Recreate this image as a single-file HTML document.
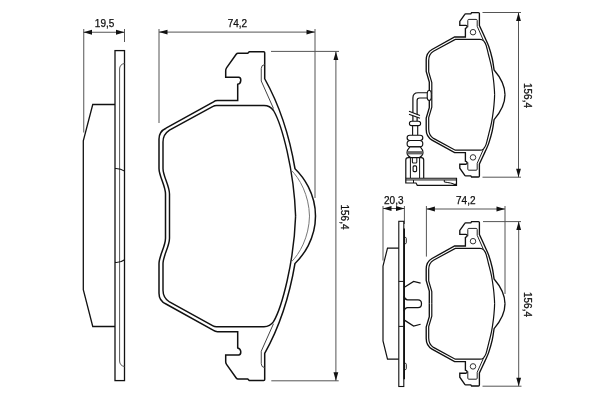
<!DOCTYPE html>
<html><head><meta charset="utf-8"><style>
html,body{margin:0;padding:0;background:#fff;}
svg{display:block;will-change:transform;}
text{font-family:"Liberation Sans",sans-serif;fill:#111;stroke:#111;stroke-width:0.25px;}
</style></head><body>
<svg width="600" height="400" viewBox="0 0 600 400">
<rect width="600" height="400" fill="#fff"/>
<path d="M83.75 29 V132.5" stroke="#555" stroke-width="1" fill="none"/>
<path d="M124.5 29 V42" stroke="#555" stroke-width="1" fill="none"/>
<path d="M83.5 32.25 H124.5" stroke="#555" stroke-width="1"/><path d="M83.50 32.25 L92.00 29.85 L92.00 34.65 Z" fill="#111"/><path d="M124.50 32.25 L116.00 34.65 L116.00 29.85 Z" fill="#111"/><text x="104.6" y="27" font-size="10" text-anchor="middle">19,5</text>
<rect x="115" y="50.6" width="9.5" height="330" fill="none" stroke="#111" stroke-width="1.3"/>
<path d="M115 104.5 H92.75 L83.3 140.75 V289.75 L92.75 326.5 H115" stroke="#111" stroke-width="1.3" fill="none"/>
<path d="M124.5 63.4 Q119.6 64.5 119.6 69 V361 Q119.6 365.5 124.5 366.6" stroke="#555" stroke-width="1.0" fill="none"/>
<path d="M115 168.5 Q120.5 168.2 124.6 171.1" stroke="#111" stroke-width="1.1" fill="none"/>
<path d="M115 262.4 Q120.5 262.8 124.6 259.75" stroke="#111" stroke-width="1.1" fill="none"/>
<g><path d="M165.5 216.1 L165.5 194 C165.5 186 159 176 159 168.5 L159 139 C159 134 161 130.5 166 128.2 L213.5 101.8 Q215.2 100.5 217.5 100.5 L237.7 100.5 L237.7 84.3 C241.6 83.6 241.6 77.6 238.7 77.25 L225.7 77.25 L225.7 70.5 Q225.7 69 226.7 67.6 L236.2 54.2 Q236.9 53.25 238 53.25 L247.75 53.25 L249.25 51.75 L263.7 51.75 Q264.7 51.75 264.7 52.75 L264.7 78.75 C281.5 108.75 289.8 138 295 168.75 C303 176.5 315.5 193 315.5 216.1" stroke="#111" stroke-width="1.5" fill="none"/><path d="M169.5 216.1 L169.5 194 C169.5 186 163 176 163 168.5 L163 142 Q163 134.5 169.5 130.2 L213 106.4 Q214.5 105.5 216.5 105.5 L264 105.5 Q270 105.5 273.5 110.5 C282 125 294 170 295.6 216.1" stroke="#111" stroke-width="1.45" fill="none"/><path d="M264.7 64.5 Q261.25 65 261.25 68.5 L261.25 81 L273.5 108.5" stroke="#444" stroke-width="1.0" fill="none"/><path d="M291 170 C299.5 178 309 195 309.5 216.1" stroke="#777" stroke-width="1.0" fill="none"/></g><g transform="matrix(1 0 0 -1 0 432.20)"><path d="M165.5 216.1 L165.5 194 C165.5 186 159 176 159 168.5 L159 139 C159 134 161 130.5 166 128.2 L213.5 101.8 Q215.2 100.5 217.5 100.5 L237.7 100.5 L237.7 84.3 C241.6 83.6 241.6 77.6 238.7 77.25 L225.7 77.25 L225.7 70.5 Q225.7 69 226.7 67.6 L236.2 54.2 Q236.9 53.25 238 53.25 L247.75 53.25 L249.25 51.75 L263.7 51.75 Q264.7 51.75 264.7 52.75 L264.7 78.75 C281.5 108.75 289.8 138 295 168.75 C303 176.5 315.5 193 315.5 216.1" stroke="#111" stroke-width="1.5" fill="none"/><path d="M169.5 216.1 L169.5 194 C169.5 186 163 176 163 168.5 L163 142 Q163 134.5 169.5 130.2 L213 106.4 Q214.5 105.5 216.5 105.5 L264 105.5 Q270 105.5 273.5 110.5 C282 125 294 170 295.6 216.1" stroke="#111" stroke-width="1.45" fill="none"/><path d="M264.7 64.5 Q261.25 65 261.25 68.5 L261.25 81 L273.5 108.5" stroke="#444" stroke-width="1.0" fill="none"/><path d="M291 170 C299.5 178 309 195 309.5 216.1" stroke="#777" stroke-width="1.0" fill="none"/></g>
<path d="M159 29 V123" stroke="#555" stroke-width="1" fill="none"/>
<path d="M315 29 V198" stroke="#555" stroke-width="1" fill="none"/>
<path d="M159 32.1 H315" stroke="#555" stroke-width="1"/><path d="M159.00 32.10 L167.50 29.70 L167.50 34.50 Z" fill="#111"/><path d="M315.00 32.10 L306.50 34.50 L306.50 29.70 Z" fill="#111"/><text x="237.4" y="27" font-size="10" text-anchor="middle">74,2</text>
<path d="M271 51.4 H339" stroke="#555" stroke-width="1" fill="none"/>
<path d="M271.3 380.8 H338.7" stroke="#555" stroke-width="1" fill="none"/>
<path d="M335.9 51.4 V380.8" stroke="#555" stroke-width="1"/><path d="M335.90 51.40 L338.30 59.90 L333.50 59.90 Z" fill="#111"/><path d="M335.90 380.80 L333.50 372.30 L338.30 372.30 Z" fill="#111"/><text transform="translate(341 217) rotate(90)" font-size="10" text-anchor="middle">156,4</text>
<g><path d="M429.3 94.8 L429.3 82 L426.2 71.5 L426.2 60 C426.2 55 428.5 51.5 432 49.5 L454.6 37 L465.4 37 L465.4 28.4 Q466.9 28 467.2 26.7 Q466.9 25.4 466 25.4 L459.8 25.4 L459.8 21.4 L464.8 14.3 Q465.1 13.8 465.6 13.8 L470.8 13.8 L471.6 12.6 L478.4 12.6 Q479.4 12.6 479.4 13.6 L479.4 25.6 C480.32 27.58 483.35 34.06 484.90 37.50 C486.45 40.94 487.47 42.71 488.70 46.25 C489.93 49.79 491.35 54.79 492.25 58.75 C493.15 62.71 493.79 68.12 494.10 70.00 C498 74.5 505 84 505 94.8" stroke="#111" stroke-width="1.35" fill="none"/><path d="M431.8 94.8 L431.8 82.5 L428.7 72 L428.7 60.5 C428.7 56.5 430.5 53 433.5 51.2 L455.3 39.4 L480 39.4 Q482.3 39.4 483.6 40.8 C484.00 41.50 485.17 42.63 486.00 45.00 C486.83 47.37 487.67 51.25 488.60 55.00 C489.53 58.75 490.78 63.33 491.60 67.50 C492.42 71.67 493.03 76.25 493.50 80.00 C493.97 83.75 494.22 87.53 494.40 90.00 C494.58 92.47 494.57 94.00 494.60 94.80" stroke="#111" stroke-width="1.2" fill="none"/><path d="M467.8 27.2 L467.8 20.4 Q467.8 19.4 468.8 19.4 L476.2 19.4 Q477.2 19.4 477.2 20.4 L477.2 26.3 L483.6 40.8" stroke="#222" stroke-width="1.0" fill="none"/><circle cx="473" cy="32.2" r="2.75" fill="none" stroke="#333" stroke-width="1"/></g><g transform="matrix(1 0 0 -1 0 189.60)"><path d="M429.3 94.8 L429.3 82 L426.2 71.5 L426.2 60 C426.2 55 428.5 51.5 432 49.5 L454.6 37 L465.4 37 L465.4 28.4 Q466.9 28 467.2 26.7 Q466.9 25.4 466 25.4 L459.8 25.4 L459.8 21.4 L464.8 14.3 Q465.1 13.8 465.6 13.8 L470.8 13.8 L471.6 12.6 L478.4 12.6 Q479.4 12.6 479.4 13.6 L479.4 25.6 C480.32 27.58 483.35 34.06 484.90 37.50 C486.45 40.94 487.47 42.71 488.70 46.25 C489.93 49.79 491.35 54.79 492.25 58.75 C493.15 62.71 493.79 68.12 494.10 70.00 C498 74.5 505 84 505 94.8" stroke="#111" stroke-width="1.35" fill="none"/><path d="M431.8 94.8 L431.8 82.5 L428.7 72 L428.7 60.5 C428.7 56.5 430.5 53 433.5 51.2 L455.3 39.4 L480 39.4 Q482.3 39.4 483.6 40.8 C484.00 41.50 485.17 42.63 486.00 45.00 C486.83 47.37 487.67 51.25 488.60 55.00 C489.53 58.75 490.78 63.33 491.60 67.50 C492.42 71.67 493.03 76.25 493.50 80.00 C493.97 83.75 494.22 87.53 494.40 90.00 C494.58 92.47 494.57 94.00 494.60 94.80" stroke="#111" stroke-width="1.2" fill="none"/><path d="M467.8 27.2 L467.8 20.4 Q467.8 19.4 468.8 19.4 L476.2 19.4 Q477.2 19.4 477.2 20.4 L477.2 26.3 L483.6 40.8" stroke="#222" stroke-width="1.0" fill="none"/><circle cx="473" cy="32.2" r="2.75" fill="none" stroke="#333" stroke-width="1"/></g>
<g transform="translate(0 209)"><g><path d="M429.3 94.8 L429.3 82 L426.2 71.5 L426.2 60 C426.2 55 428.5 51.5 432 49.5 L454.6 37 L465.4 37 L465.4 28.4 Q466.9 28 467.2 26.7 Q466.9 25.4 466 25.4 L459.8 25.4 L459.8 21.4 L464.8 14.3 Q465.1 13.8 465.6 13.8 L470.8 13.8 L471.6 12.6 L478.4 12.6 Q479.4 12.6 479.4 13.6 L479.4 25.6 C480.32 27.58 483.35 34.06 484.90 37.50 C486.45 40.94 487.47 42.71 488.70 46.25 C489.93 49.79 491.35 54.79 492.25 58.75 C493.15 62.71 493.79 68.12 494.10 70.00 C498 74.5 505 84 505 94.8" stroke="#111" stroke-width="1.35" fill="none"/><path d="M431.8 94.8 L431.8 82.5 L428.7 72 L428.7 60.5 C428.7 56.5 430.5 53 433.5 51.2 L455.3 39.4 L480 39.4 Q482.3 39.4 483.6 40.8 C484.00 41.50 485.17 42.63 486.00 45.00 C486.83 47.37 487.67 51.25 488.60 55.00 C489.53 58.75 490.78 63.33 491.60 67.50 C492.42 71.67 493.03 76.25 493.50 80.00 C493.97 83.75 494.22 87.53 494.40 90.00 C494.58 92.47 494.57 94.00 494.60 94.80" stroke="#111" stroke-width="1.2" fill="none"/><path d="M467.8 27.2 L467.8 20.4 Q467.8 19.4 468.8 19.4 L476.2 19.4 Q477.2 19.4 477.2 20.4 L477.2 26.3 L483.6 40.8" stroke="#222" stroke-width="1.0" fill="none"/><circle cx="473" cy="32.2" r="2.75" fill="none" stroke="#333" stroke-width="1"/></g><g transform="matrix(1 0 0 -1 0 189.60)"><path d="M429.3 94.8 L429.3 82 L426.2 71.5 L426.2 60 C426.2 55 428.5 51.5 432 49.5 L454.6 37 L465.4 37 L465.4 28.4 Q466.9 28 467.2 26.7 Q466.9 25.4 466 25.4 L459.8 25.4 L459.8 21.4 L464.8 14.3 Q465.1 13.8 465.6 13.8 L470.8 13.8 L471.6 12.6 L478.4 12.6 Q479.4 12.6 479.4 13.6 L479.4 25.6 C480.32 27.58 483.35 34.06 484.90 37.50 C486.45 40.94 487.47 42.71 488.70 46.25 C489.93 49.79 491.35 54.79 492.25 58.75 C493.15 62.71 493.79 68.12 494.10 70.00 C498 74.5 505 84 505 94.8" stroke="#111" stroke-width="1.35" fill="none"/><path d="M431.8 94.8 L431.8 82.5 L428.7 72 L428.7 60.5 C428.7 56.5 430.5 53 433.5 51.2 L455.3 39.4 L480 39.4 Q482.3 39.4 483.6 40.8 C484.00 41.50 485.17 42.63 486.00 45.00 C486.83 47.37 487.67 51.25 488.60 55.00 C489.53 58.75 490.78 63.33 491.60 67.50 C492.42 71.67 493.03 76.25 493.50 80.00 C493.97 83.75 494.22 87.53 494.40 90.00 C494.58 92.47 494.57 94.00 494.60 94.80" stroke="#111" stroke-width="1.2" fill="none"/><path d="M467.8 27.2 L467.8 20.4 Q467.8 19.4 468.8 19.4 L476.2 19.4 Q477.2 19.4 477.2 20.4 L477.2 26.3 L483.6 40.8" stroke="#222" stroke-width="1.0" fill="none"/><circle cx="473" cy="32.2" r="2.75" fill="none" stroke="#333" stroke-width="1"/></g></g>
<path d="M482.5 12.5 H521" stroke="#555" stroke-width="1" fill="none"/>
<path d="M482.5 177.2 H521" stroke="#555" stroke-width="1" fill="none"/>
<path d="M518.5 12.5 V177.2" stroke="#555" stroke-width="1"/><path d="M518.50 12.50 L520.90 21.00 L516.10 21.00 Z" fill="#111"/><path d="M518.50 177.20 L516.10 168.70 L520.90 168.70 Z" fill="#111"/><text transform="translate(524 95.5) rotate(90)" font-size="10" text-anchor="middle">156,4</text>
<path d="M483 221.6 H521" stroke="#555" stroke-width="1" fill="none"/>
<path d="M482.5 386.2 H521.5" stroke="#555" stroke-width="1" fill="none"/>
<path d="M518.7 221.6 V386.2" stroke="#555" stroke-width="1"/><path d="M518.70 221.60 L521.10 230.10 L516.30 230.10 Z" fill="#111"/><path d="M518.70 386.20 L516.30 377.70 L521.10 377.70 Z" fill="#111"/><text transform="translate(524.2 304.5) rotate(90)" font-size="10" text-anchor="middle">156,4</text>
<path d="M426.4 206 V256.6" stroke="#555" stroke-width="1" fill="none"/>
<path d="M505 206 V294" stroke="#555" stroke-width="1" fill="none"/>
<path d="M426.4 209 H505" stroke="#555" stroke-width="1"/><path d="M426.40 209.00 L434.90 206.60 L434.90 211.40 Z" fill="#111"/><path d="M505.00 209.00 L496.50 211.40 L496.50 206.60 Z" fill="#111"/><text x="465.8" y="204" font-size="10" text-anchor="middle">74,2</text>
<path d="M427.25 93 Q427.25 90.6 429.25 90.25 Q431.25 90.6 431.25 93 V97.75 Q431.25 100.2 429.25 100.5 Q427.25 100.2 427.25 97.75 Z" fill="#fff" stroke="#111" stroke-width="1.1"/>
<path d="M427.25 92.75 H418 Q412.9 92.75 412.9 98 V112.8 M412.9 115.7 V121.3" stroke="#111" stroke-width="1.2" fill="none"/>
<path d="M427.25 98 H419.6 Q417.1 98 417.1 100.5 V114.4 M417.1 117.2 V121.3" stroke="#111" stroke-width="1.2" fill="none"/>
<path d="M409 111.25 L420 115.5 M409 114.25 L420 118.25" stroke="#111" stroke-width="1.1" fill="none"/>
<rect x="409.4" y="121.25" width="11.2" height="4.4" rx="2.2" fill="#fff" stroke="#111" stroke-width="1.1"/>
<path d="M412.6 125.6 V135.2 M417.7 125.6 V135.2" stroke="#111" stroke-width="1.1" fill="none"/>
<rect x="407.1" y="135.2" width="15.7" height="5.3" rx="2.65" fill="#fff" stroke="#111" stroke-width="1.15"/>
<rect x="407.1" y="140.5" width="15.7" height="6.4" rx="3.2" fill="#fff" stroke="#111" stroke-width="1.15"/>
<path d="M410 146.9 H420.3 Q423 150 423 152.4 Q423 155.5 419.5 157.5 H410.5 Q407 155.5 407 152.4 Q407 150 410 146.9 Z" fill="#fff" stroke="#111" stroke-width="1.15"/>
<rect x="407.4" y="151.1" width="15.2" height="3.3" fill="#666"/>
<path d="M405.8 178.25 V160 Q405.8 157.6 408.2 157.6 H421.3 Q423.7 157.6 423.7 160 V178.25" fill="#fff" stroke="#111" stroke-width="1.2"/>
<path d="M410.4 157.6 V178.2 M419.6 157.6 V178.2" stroke="#111" stroke-width="1.0" fill="none"/>
<path d="M412.4 157.9 V162 Q412.4 163 413.4 163 H415.8 Q416.8 163 416.8 162 V157.9" fill="none" stroke="#222" stroke-width="1.1"/>
<rect x="413.1" y="165.9" width="3.5" height="5.7" rx="1" fill="none" stroke="#111" stroke-width="1.1"/>
<path d="M405.8 178.25 H456.5 V185.4 H417.3 L416 183 H405.8 Z" fill="#fff" stroke="#111" stroke-width="1.2"/>
<path d="M405.8 179.95 H456.5 M413.5 180 V183" stroke="#111" stroke-width="1.0" fill="none"/>
<path d="M444.3 180 V182 Q447 182.4 450.5 183 Q454 183.6 456 185.3" stroke="#111" stroke-width="1.0" fill="none"/>
<path d="M452.5 184.2 L456.5 183.4 V185.4 Z" fill="#111"/>
<path d="M383 206 V260.5" stroke="#555" stroke-width="1" fill="none"/>
<path d="M404.4 206 V224" stroke="#555" stroke-width="1" fill="none"/>
<path d="M383 208.5 H404.5" stroke="#555" stroke-width="1"/><path d="M383.00 208.50 L391.50 206.10 L391.50 210.90 Z" fill="#111"/><path d="M404.50 208.50 L396.00 210.90 L396.00 206.10 Z" fill="#111"/><text x="393.8" y="203.5" font-size="10" text-anchor="middle">20,3</text>
<rect x="398.8" y="221.3" width="5" height="165.2" fill="none" stroke="#111" stroke-width="1.1"/>
<path d="M404.2 228.5 V379.2" stroke="#111" stroke-width="1.6" fill="none"/>
<path d="M404.2 237.4 H405.3 Q406.3 237.4 406.3 238.4 V242.7 Q406.3 243.7 405.3 243.7 H404.2" fill="none" stroke="#111" stroke-width="0.9"/>
<path d="M404.2 363.3 H405.3 Q406.3 363.3 406.3 364.3 V368.6 Q406.3 369.6 405.3 369.6 H404.2" fill="none" stroke="#111" stroke-width="0.9"/>
<path d="M398.8 248.2 H387.5 L383 266 V341 L387.5 359.2 H398.8" stroke="#111" stroke-width="1.2" fill="none"/>
<path d="M398.8 281.4 H403.8 M398.8 326.4 H403.8" stroke="#111" stroke-width="1.0" fill="none"/>
<path d="M404 287.5 L413.6 281.4 L420.6 283.1" stroke="#111" stroke-width="1.25" fill="none"/>
<path d="M404 319.9 L413.6 326 L420.6 324.25" stroke="#111" stroke-width="1.25" fill="none"/>
<path d="M404 296.25 Q405 299.75 407.5 299.75 H418 Q421.5 299.75 421.5 303.7 Q421.5 307.6 418 307.6 H407.5 Q405 307.6 404 311.1" stroke="#111" stroke-width="1.25" fill="none"/>
</svg>
</body></html>
